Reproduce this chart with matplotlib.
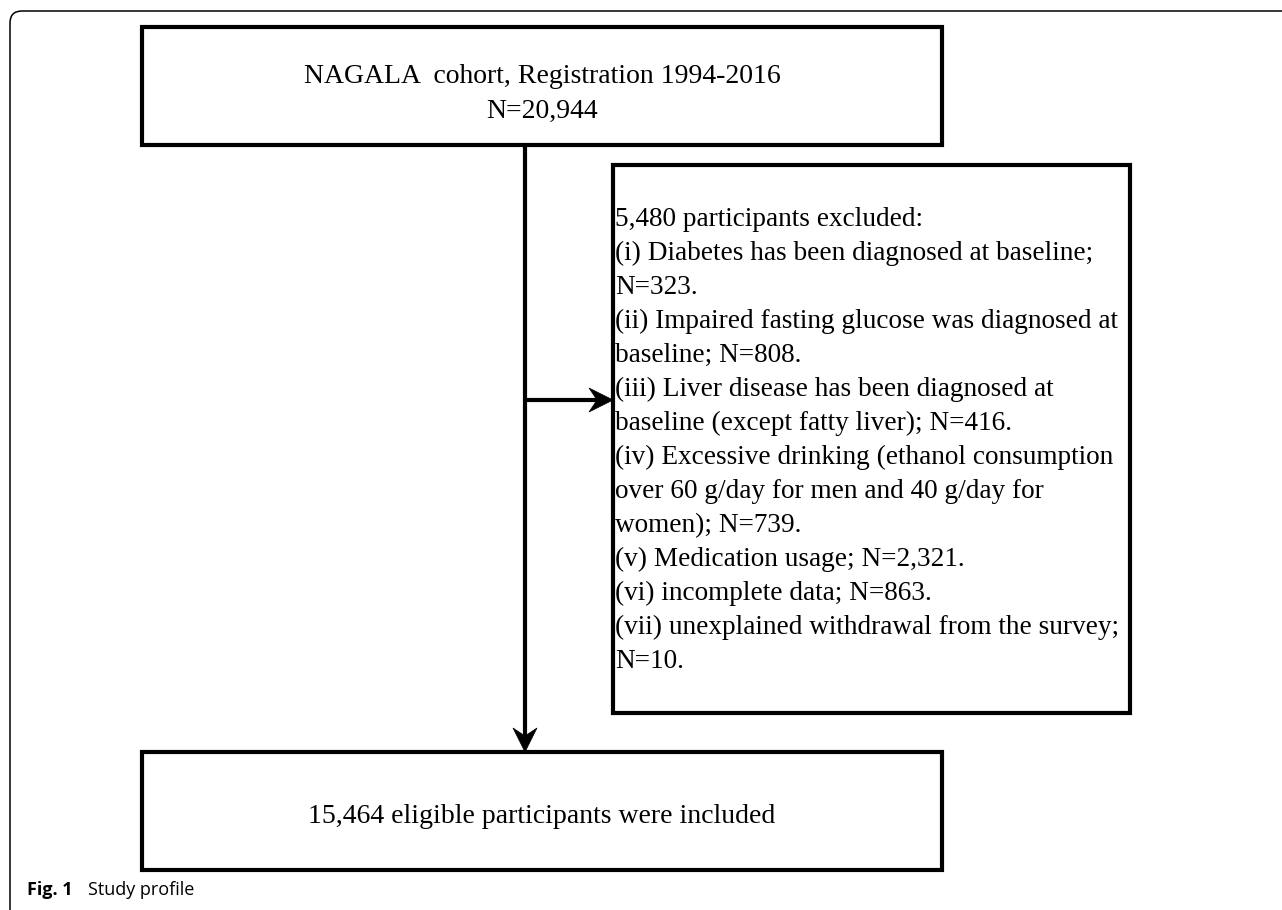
import matplotlib
matplotlib.use("Agg")
import matplotlib.pyplot as plt
from matplotlib.patches import Rectangle, Polygon
from matplotlib.path import Path
from matplotlib.patches import PathPatch

# texts of the flow chart
top_lines = ["NAGALA  cohort, Registration 1994-2016", "N=20,944"]
excl_lines = [
    "5,480 participants excluded:",
    "(i) Diabetes has been diagnosed at baseline;",
    "N=323.",
    "(ii) Impaired fasting glucose was diagnosed at",
    "baseline; N=808.",
    "(iii) Liver disease has been diagnosed at",
    "baseline (except fatty liver); N=416.",
    "(iv) Excessive drinking (ethanol consumption",
    "over 60 g/day for men and 40 g/day for",
    "women); N=739.",
    "(v) Medication usage; N=2,321.",
    "(vi) incomplete data; N=863.",
    "(vii) unexplained withdrawal from the survey;",
    "N=10.",
]
bottom_text = "15,464 eligible participants were included"
caption_bold = "Fig. 1"
caption_text = "Study profile"

W, H = 1282, 910
fig = plt.figure(figsize=(W / 100, H / 100), dpi=100)
ax = fig.add_axes([0, 0, 1, 1])
ax.set_xlim(0, W)
ax.set_ylim(H, 0)
ax.axis("off")

serif = "Liberation Serif"
lw = 3.0

# outer frame with rounded top-left corner
verts = [(10, H + 5), (10, 23), (10, 11), (22, 11), (W + 5, 11)]
codes = [Path.MOVETO, Path.LINETO, Path.CURVE3, Path.CURVE3, Path.LINETO]
ax.add_patch(PathPatch(Path(verts, codes), fill=False, lw=1.1, ec="black"))

# boxes
ax.add_patch(Rectangle((142, 27), 800, 118, fill=False, lw=lw, ec="black"))
ax.add_patch(Rectangle((613, 165), 517, 548, fill=False, lw=lw, ec="black"))
ax.add_patch(Rectangle((142, 752), 800, 118, fill=False, lw=lw, ec="black"))

# texts in top box
ax.text(542, 83, top_lines[0], ha="center", va="baseline", fontsize=20, family=serif)
ax.text(542, 118, top_lines[1], ha="center", va="baseline", fontsize=20, family=serif)

# exclusion box text
y0, dy = 226, 34
for i, s in enumerate(excl_lines):
    ax.text(615, y0 + i * dy, s, ha="left", va="baseline", fontsize=19.6, family=serif)

# bottom box text
ax.text(542, 823, bottom_text, ha="center", va="baseline", fontsize=20, family=serif)


def head(tip, direction, length=24, width=24, notch=8):
    x, y = tip
    if direction == "down":
        pts = [(x, y), (x - width / 2, y - length), (x, y - length + notch), (x + width / 2, y - length)]
    else:
        pts = [(x, y), (x - length, y - width / 2), (x - length + notch, y), (x - length, y + width / 2)]
    ax.add_patch(Polygon(pts, closed=True, fc="black", ec="black", lw=0.5))


# main vertical arrow and side branch
ax.plot([525, 525], [145, 740], color="black", lw=lw, solid_capstyle="butt")
head((525, 752), "down")
ax.plot([525, 600], [400, 400], color="black", lw=lw, solid_capstyle="butt")
head((613, 400), "right")

# caption
ax.text(27, 895, caption_bold, ha="left", va="baseline", fontsize=13,
        family="Open Sans", fontweight="bold")
ax.text(88, 895, caption_text, ha="left", va="baseline", fontsize=13,
        family="Open Sans")

fig.savefig("out.png", dpi=100)
